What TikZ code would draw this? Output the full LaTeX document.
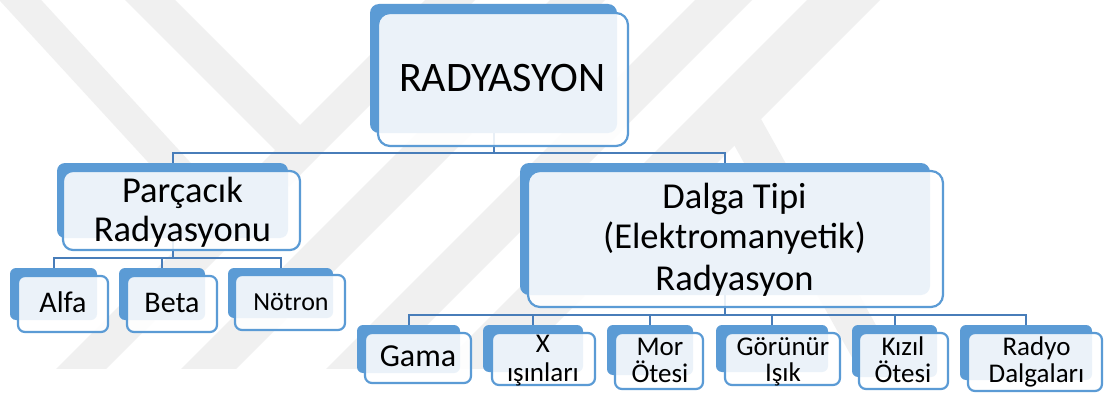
\documentclass[tikz,border=0pt]{standalone}
\usepackage{fontspec}
\setmainfont{Carlito}
\usetikzlibrary{fit}
\definecolor{tabblue}{RGB}{91,155,213}
\definecolor{linkblue}{RGB}{72,125,185}
\definecolor{wmgray}{RGB}{240,240,240}
\tikzset{
  backtab/.style={fill=tabblue, draw=none, inner sep=0pt, rounded corners=#1},
  backtab/.default=6pt,
  frontcard/.style={draw=tabblue, line width=2.2pt, fill=white, fill opacity=0.88,
    inner sep=0pt, rounded corners=#1},
  frontcard/.default=7pt,
  link/.style={draw=linkblue, line width=2pt},
  lbl/.style={anchor=base, inner sep=0pt, text=black, font=\fontsize{#1}{#1}\selectfont},
  wmband/.style={fill=wmgray, draw=none}
}
\begin{document}
\begin{tikzpicture}[x=1pt, y=-1pt]
\useasboundingbox (0,0) rectangle (1109,396);
\fill[white] (0,0) rectangle (1109,396);

% faint background emblem
\begin{scope}
\clip (0,0) rectangle (1109,368);
\fill[wmband] (-10,-10) -- (32,-10) -- (234,210) -- (192,210) -- cycle;
\fill[wmband] (125,0) -- (175,0) -- (300,125) -- (300,175) -- cycle;
\fill[wmband] (55,370) -- (105,370) -- (485,-10) -- (435,-10) -- cycle;
\fill[wmband] (180,370) -- (235,370) -- (615,-10) -- (560,-10) -- cycle;
\fill[wmband] (325,370) -- (382,370) -- (762,-10) -- (705,-10) -- cycle;
\fill[wmband] (437,370) -- (510,370) -- (890,-10) -- (817,-10) -- cycle;
\fill[wmband] (761,119) -- (901,370) -- (859,370) -- (733,143) -- cycle;
\end{scope}

% bus levels
\coordinate (busTop) at (0,153);
\coordinate (busPar) at (0,258);
\coordinate (busDal) at (0,315);

% back tabs
\node[backtab=9pt, fit={(370,4) (617,133)}] (rootB) {};
\node[backtab=8pt, fit={(57,163) (288,238)}] (parB) {};
\node[backtab=9pt, fit={(520,163) (930,295)}] (dalB) {};
\node[backtab, fit={(10,268) (97,320)}] (alfaB) {};
\node[backtab, fit={(119,268) (205,320)}] (betaB) {};
\node[backtab, fit={(228,268) (333,318)}] (notB) {};
\node[backtab, fit={(357,325) (460,373)}] (gamaB) {};
\node[backtab, fit={(483,325) (583,372)}] (xB) {};
\node[backtab, fit={(607,325) (693,375)}] (morB) {};
\node[backtab, fit={(716,325) (828,372)}] (gorB) {};
\node[backtab, fit={(852,325) (937,377)}] (kizB) {};
\node[backtab, fit={(960,325) (1092,380)}] (radB) {};

% connectors
\draw[link] (rootB.south) -- (rootB.south |- busTop);
\draw[link] (parB.north) |- (rootB.south |- busTop) -| (dalB.north);
\draw[link] (parB.south) -- (parB.south |- busPar);
\draw[link] (alfaB.north) |- (parB.south |- busPar) -| (notB.north);
\draw[link] (betaB.north) -- (betaB.north |- busPar);
\draw[link] (dalB.south) -- (dalB.south |- busDal);
\draw[link] (gamaB.north) |- (dalB.south |- busDal) -| (radB.north);
\draw[link] (xB.north) -- (xB.north |- busDal);
\draw[link] (morB.north) -- (morB.north |- busDal);
\draw[link] (gorB.north) -- (gorB.north |- busDal);
\draw[link] (kizB.north) -- (kizB.north |- busDal);

% front cards
\node[frontcard=12pt, fit={(378,13) (628,146)}] (root) {};
\node[frontcard=10pt, fit={(63,171) (300,250)}] (par) {};
\node[frontcard=12pt, fit={(528,171) (943,307)}] (dal) {};
\node[frontcard, fit={(18,276) (108,332)}] (alfa) {};
\node[frontcard, fit={(127,276) (217,332)}] (beta) {};
\node[frontcard, fit={(235,275) (345,330)}] (not) {};
\node[frontcard, fit={(365,333) (471,383)}] (gama) {};
\node[frontcard, fit={(492,333) (595,385)}] (xr) {};
\node[frontcard, fit={(615,333) (703,389)}] (mor) {};
\node[frontcard, fit={(725,333) (840,385)}] (gor) {};
\node[frontcard, fit={(859,333) (948,389)}] (kiz) {};
\node[frontcard, fit={(968,333) (1102,391)}] (rad) {};

% labels
\node[lbl=42] (rootT) at (502.5,92) {RADYASYON};
\node[lbl=36.5] (parT1) at (182.5,202) {Parçacık};
\node[lbl=36.5] (parT2) at (182.5,241) {Radyasyonu};
\node[lbl=36.5] (dalT1) at (734.5,208.5) {Dalga Tipi};
\node[lbl=36.5] (dalT2) at (734.5,248.5) {(Elektromanyetik)};
\node[lbl=36.5] (dalT3) at (734.5,290.5) {Radyasyon};
\node[lbl=30] (alfaT) at (63,312) {Alfa};
\node[lbl=30] (betaT) at (172,312) {Beta};
\node[lbl=26] (notT) at (291,310) {Nötron};
\node[lbl=32] (gamaT) at (418,366) {Gama};
\node[lbl=27] (xT1) at (543,352) {X};
\node[lbl=27] (xT2) at (543,381.5) {ışınları};
\node[lbl=27] (morT1) at (660,355) {Mor};
\node[lbl=27] (morT2) at (660,382.5) {Ötesi};
\node[lbl=27] (gorT1) at (783,355) {Görünür};
\node[lbl=27] (gorT2) at (783,381.5) {Işık};
\node[lbl=27] (kizT1) at (903,355) {Kızıl};
\node[lbl=27] (kizT2) at (903,382) {Ötesi};
\node[lbl=27] (radT1) at (1036.5,355) {Radyo};
\node[lbl=27] (radT2) at (1036.5,382) {Dalgaları};
\end{tikzpicture}
\end{document}
